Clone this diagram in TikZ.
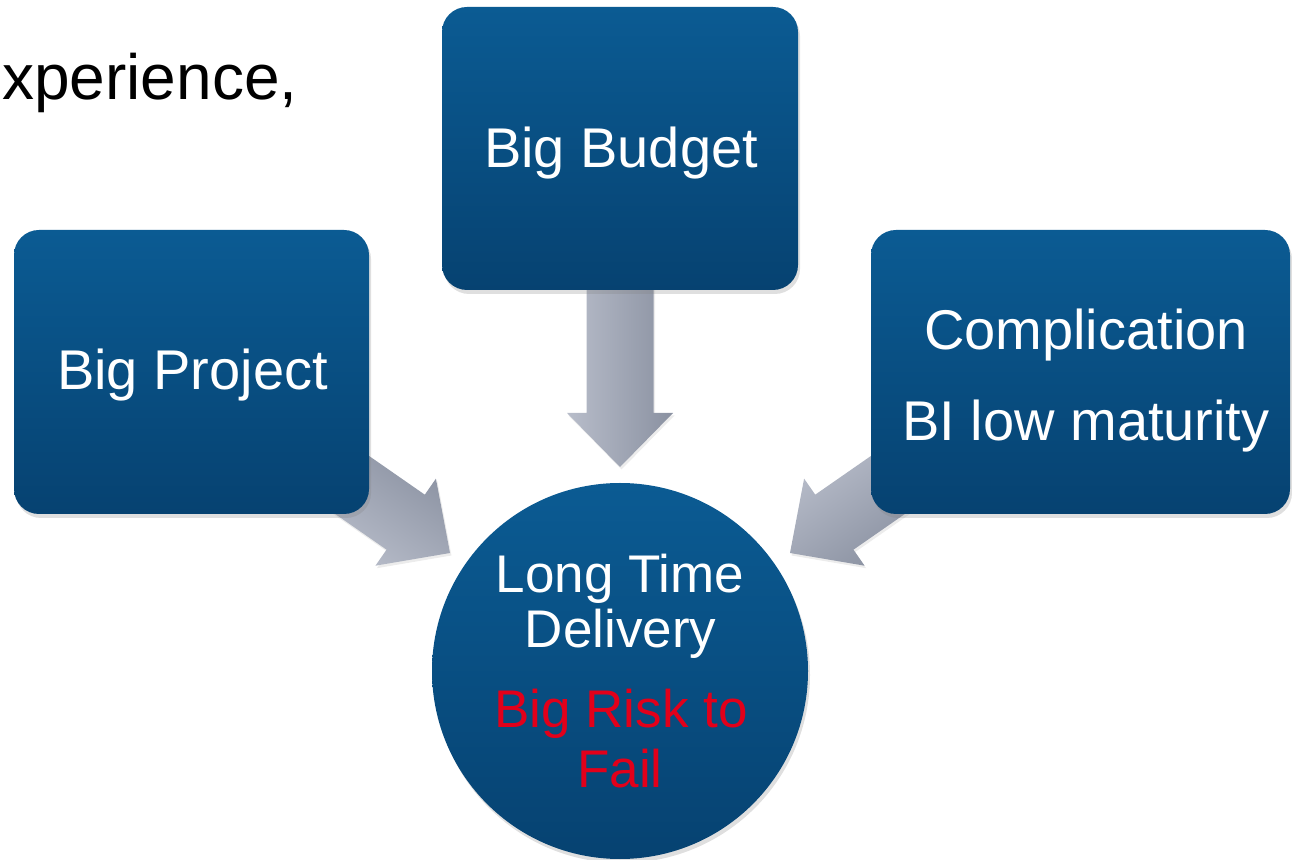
\documentclass[tikz,border=0pt]{standalone}
\usepackage{fontspec}
\setmainfont{Liberation Sans}
\usetikzlibrary{calc,shadows}
\definecolor{boxtop}{RGB}{11,91,147}
\definecolor{boxbot}{RGB}{6,66,113}
\definecolor{arrlight}{RGB}{184,189,202}
\definecolor{arrdark}{RGB}{138,145,161}
\definecolor{riskred}{RGB}{226,0,26}
\tikzset{
  bluebox/.style={draw=none, rounded corners=25pt, top color=boxtop, bottom color=boxbot,
    drop shadow={shadow xshift=2pt, shadow yshift=-4pt, opacity=0.25}},
  bluecircle/.style={circle, draw=none, top color=boxtop, bottom color=boxbot,
    drop shadow={shadow xshift=2pt, shadow yshift=-4pt, opacity=0.25}},
  boxtext/.style={anchor=base, text=white, inner sep=0pt, font=\fontsize{56}{60}\selectfont},
  circtext/.style={anchor=base, text=white, inner sep=0pt, font=\fontsize{53}{56}\selectfont},
  arrowshade/.style={top color=arrlight, bottom color=arrdark,
    drop shadow={shadow xshift=1.5pt, shadow yshift=-2.5pt, opacity=0.15}}
}
\newcommand\blockarrow[4]{%
  \shade[arrowshade, shading angle=#4] (#1)
   -- ($(#1)+(#2+180:54pt)+(#2+90:53pt)$)
   -- ($(#1)+(#2+180:54pt)+(#2+90:33.5pt)$)
   -- ($(#1)+(#2+180:#3pt)+(#2+90:33.5pt)$)
   -- ($(#1)+(#2+180:#3pt)+(#2-90:33.5pt)$)
   -- ($(#1)+(#2+180:54pt)+(#2-90:33.5pt)$)
   -- ($(#1)+(#2+180:54pt)+(#2-90:53pt)$)
   -- cycle;}
\begin{document}
\begin{tikzpicture}[x=1pt,y=1pt]
\useasboundingbox (0,0) rectangle (1292,859);
\clip (0,0) rectangle (1292,859);

% partial title text
\node[anchor=base west, inner sep=0pt, font=\fontsize{64}{68}\selectfont] (title) at (2,759) {xperience,};

% arrow tips
\coordinate (tipdown) at (620,392);
\coordinate (tipleft) at (450,306);
\coordinate (tipright) at (790,306);

% block arrows (drawn under the boxes)
\blockarrow{tipdown}{-90}{200}{90}
\blockarrow{tipleft}{-34.8}{140}{145}
\blockarrow{tipright}{214.8}{140}{35}

% boxes
\node[bluebox, minimum width=356pt, minimum height=283pt] (budget) at (620,710.5) {};
\node[bluebox, minimum width=355pt, minimum height=284pt] (project) at (191.5,487) {};
\node[bluebox, minimum width=419pt, minimum height=284pt] (compl) at (1080.5,487) {};
\node[bluecircle, minimum size=376pt] (risk) at (620,188) {};

% texts
\node[boxtext] (tbudget) at (621,691) {Big Budget};
\node[boxtext] (tproject) at (192.5,469) {Big Project};
\node[boxtext] (tcompl1) at (1086,509) {Complication};
\node[boxtext] (tcompl2) at (1086,418) {BI low maturity};
\node[circtext] (tlong) at (620,266) {Long Time};
\node[circtext] (tdeliv) at (620.5,211) {Delivery};
\node[circtext, text=riskred] (trisk) at (621,131) {Big Risk to};
\node[circtext, text=riskred] (tfail) at (620,71) {Fail};
\end{tikzpicture}
\end{document}
